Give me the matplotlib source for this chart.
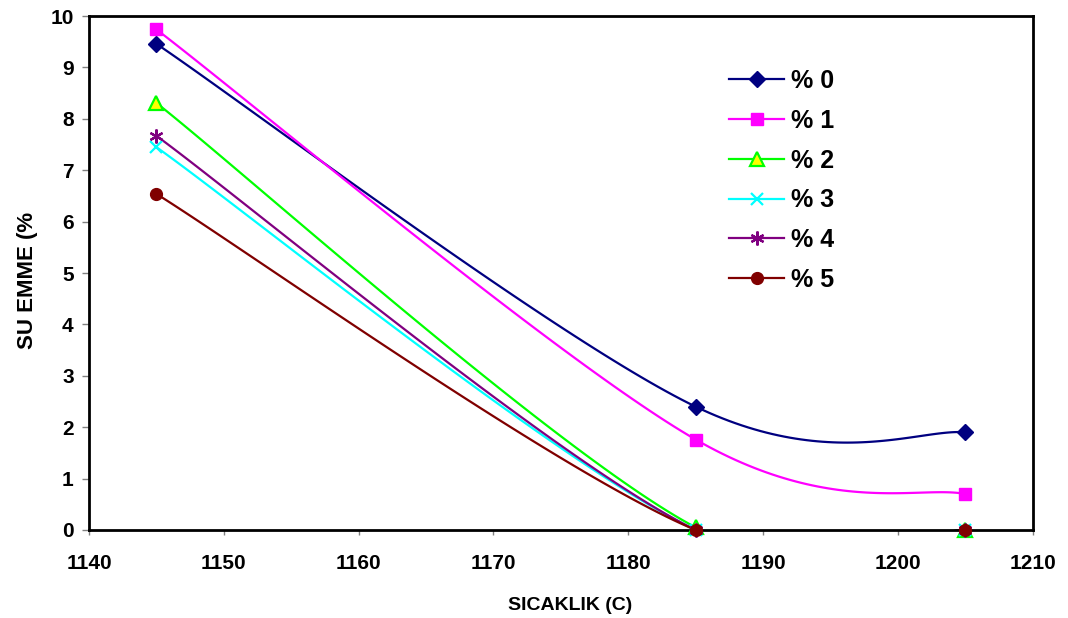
import numpy as np
import matplotlib.pyplot as plt
from matplotlib.lines import Line2D

plt.rcParams['font.family'] = ['Liberation Sans', 'DejaVu Sans']
plt.rcParams['font.weight'] = 'bold'

# sicaklik (C) ve su emme (%) degerleri
sicaklik = [1145, 1185, 1205]
seri_adlari = ['% 0', '% 1', '% 2', '% 3', '% 4', '% 5']
su_0 = [9.46, 2.40, 1.90]
su_1 = [9.74, 1.76, 0.70]
su_2 = [8.31, 0.05, 0.0]
su_3 = [7.45, 0.0, 0.0]
su_4 = [7.67, 0.0, 0.0]
su_5 = [6.54, 0.0, 0.0]

renkler = ['#000080', '#FF00FF', '#00FF00', '#00FFFF', '#800080', '#800000']
isaretler = ['D', 's', '^', 'x', (6, 2, 0), 'o']
dolgu = ['#000080', '#FF00FF', '#FFFF00', '#00FFFF', '#800080', '#800000']
boyut = [8.5, 8.5, 9.5, 9, 10, 8.5]


def excel_egri(x, y, n=60):
    # excel "smoothed line" benzeri bezier egrisi
    p = np.column_stack([x, y]).astype(float)
    p = np.vstack([p[0], p, p[-1]])
    out = []
    for i in range(1, len(p) - 2):
        a, b = p[i], p[i + 1]
        c1 = a + (p[i + 1] - p[i - 1]) / 6
        c2 = b - (p[i + 2] - p[i]) / 6
        t = np.linspace(0, 1, n)[:, None]
        seg = (1 - t)**3 * a + 3 * (1 - t)**2 * t * c1 + 3 * (1 - t) * t**2 * c2 + t**3 * b
        out.append(seg)
    out = np.vstack(out)
    return out[:, 0], out[:, 1]


fig = plt.figure(figsize=(10.68, 6.18), dpi=100, facecolor='white')
ax = fig.add_axes([0.0833, 0.1424, 0.8837, 0.8316])

seriler = [su_0, su_1, su_2, su_3, su_4, su_5]
tutamaclar = []
for s, ad, r, m, d, b in zip(seriler, seri_adlari, renkler, isaretler, dolgu, boyut):
    ex, ey = excel_egri(sicaklik, s)
    ax.plot(ex, ey, color=r, linewidth=1.6)
    mew = 1.6 if m in ('^', 'x', (6, 2, 0)) else 1
    ax.plot(sicaklik, s, linestyle='none', marker=m, markersize=b,
            markerfacecolor=d, markeredgecolor=r, markeredgewidth=mew,
            clip_on=False, zorder=3)
    tutamaclar.append(Line2D([], [], color=r, linewidth=1.6, marker=m, markersize=b,
                             markerfacecolor=d, markeredgecolor=r, markeredgewidth=mew))

ax.set_xlim(1140, 1210)
ax.set_ylim(0, 10)
ax.set_xticks(range(1140, 1211, 10))
ax.set_yticks(range(0, 11))
ax.tick_params(axis='x', direction='out', length=3.6, width=1, color='#808080',
               labelsize=15, pad=14)
ax.tick_params(axis='y', direction='out', length=5, width=1, color='#808080',
               labelsize=15, pad=6)
for sp in ax.spines.values():
    sp.set_linewidth(2)

ax.set_xlabel('SICAKLIK (C)', fontsize=14, fontweight='bold')
ax.set_ylabel('SU EMME (%', fontsize=16, fontweight='bold')
ax.xaxis.set_label_coords(0.51, -0.146)
ax.xaxis.label.set_va('center')
ax.yaxis.set_label_coords(-0.0646, 0.486)
ax.yaxis.label.set_va('center')
ax.yaxis.label.set_ha('center')

leg = ax.legend(tutamaclar, seri_adlari, loc='upper left', bbox_to_anchor=(0.668, 0.916),
                frameon=False, fontsize=18, handlelength=2.2, handletextpad=0.28,
                labelspacing=0.63, borderaxespad=0)
for t in leg.get_texts():
    t.set_fontweight('bold')

plt.savefig('out.png', dpi=100)
